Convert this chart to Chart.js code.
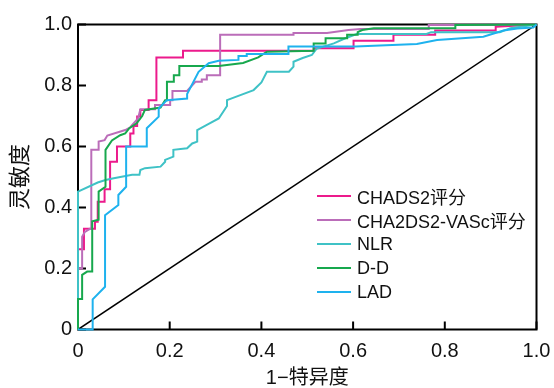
<!DOCTYPE html>
<html>
<head>
<meta charset="utf-8">
<script src="https://cdn.jsdelivr.net/npm/chart.js@4.4.1/dist/chart.umd.min.js"></script>
<style>
  body { margin: 0; background: #fff; }
  #wrap { position: relative; width: 554px; height: 388px; }
  #legend { position: absolute; left: 317px; top: 184px; font-family: 'Liberation Sans', Arial, 'Noto Sans CJK SC', sans-serif; font-size: 18px; color: #111; }
  .row { display: flex; align-items: center; height: 24px; white-space: nowrap; }
  .swatch { width: 34px; height: 2px; margin-right: 6px; }
</style>
</head>
<body>
<div id="wrap">
  <canvas id="roc" width="554" height="388"></canvas>
  <div id="legend"></div>
</div>
<script>
// 坐标轴
var tickValues = [0, 0.2, 0.4, 0.6, 0.8, 1.0];
var tickLabels = ["0", "0.2", "0.4", "0.6", "0.8", "1.0"];
var xTitle = "1−特异度";
var yTitle = "灵敏度";

// 图例名称
var seriesNames = ["CHADS2评分", "CHA2DS2-VASc评分", "NLR", "D-D", "LAD"];
var seriesColors = ["#ec1a8c", "#bb6db9", "#3fc2c6", "#17a84d", "#1eb2ee"];

// ROC 曲线 [1-特异度, 灵敏度]
var chads2Roc = [
  [0, 0], [0, 0.263], [0.013, 0.263], [0.013, 0.33], [0.037, 0.33], [0.037, 0.353],
  [0.043, 0.353], [0.043, 0.419], [0.058, 0.419], [0.058, 0.46], [0.07, 0.46], [0.07, 0.55],
  [0.085, 0.55], [0.085, 0.6], [0.114, 0.6], [0.114, 0.643], [0.121, 0.643], [0.121, 0.667],
  [0.129, 0.667], [0.129, 0.698], [0.136, 0.698], [0.136, 0.72], [0.154, 0.72], [0.154, 0.752],
  [0.171, 0.752], [0.171, 0.892], [0.229, 0.892], [0.229, 0.914], [0.514, 0.914], [0.514, 0.922],
  [0.601, 0.922], [0.601, 0.947], [0.688, 0.947], [0.688, 0.966], [0.779, 0.966], [0.779, 0.98],
  [0.911, 0.98], [0.911, 0.993], [1, 1]
];
var vascRoc = [
  [0, 0], [0, 0.2], [0.009, 0.2], [0.009, 0.304], [0.015, 0.32], [0.026, 0.33], [0.029, 0.33],
  [0.029, 0.589], [0.045, 0.589], [0.045, 0.616], [0.058, 0.621], [0.064, 0.636], [0.103, 0.654],
  [0.114, 0.663], [0.131, 0.692], [0.136, 0.722], [0.168, 0.722], [0.168, 0.736], [0.201, 0.736],
  [0.201, 0.752], [0.206, 0.752], [0.206, 0.782], [0.238, 0.782], [0.256, 0.812], [0.27, 0.812],
  [0.27, 0.82], [0.281, 0.82], [0.281, 0.834], [0.31, 0.834], [0.31, 0.966], [0.47, 0.966],
  [0.47, 0.972], [0.543, 0.972], [0.59, 0.982], [0.616, 0.985], [0.765, 0.985], [0.765, 0.998], [1, 1]
];
var nlrRoc = [
  [0, 0], [0, 0.452], [0.043, 0.482], [0.06, 0.49], [0.078, 0.496], [0.118, 0.507], [0.134, 0.507],
  [0.136, 0.523], [0.146, 0.529], [0.18, 0.534], [0.19, 0.55], [0.19, 0.556], [0.208, 0.567],
  [0.208, 0.589], [0.238, 0.594], [0.249, 0.61], [0.26, 0.616], [0.26, 0.654], [0.28, 0.67],
  [0.307, 0.692], [0.325, 0.733], [0.325, 0.752], [0.383, 0.785], [0.4, 0.81], [0.412, 0.845],
  [0.46, 0.845], [0.47, 0.862], [0.47, 0.878], [0.49, 0.89], [0.51, 0.9], [0.52, 0.92],
  [0.558, 0.938], [0.583, 0.955], [0.608, 0.969], [0.76, 0.969], [0.77, 0.975], [0.92, 0.975],
  [0.943, 0.988], [1, 1]
];
var ddRoc = [
  [0, 0], [0, 0.1], [0.009, 0.1], [0.009, 0.179], [0.02, 0.19], [0.031, 0.19], [0.031, 0.355],
  [0.045, 0.36], [0.045, 0.452], [0.06, 0.468], [0.06, 0.589], [0.074, 0.62], [0.092, 0.637],
  [0.103, 0.643], [0.112, 0.66], [0.128, 0.676], [0.14, 0.7], [0.146, 0.72], [0.18, 0.728],
  [0.19, 0.752], [0.194, 0.752], [0.194, 0.812], [0.209, 0.812], [0.209, 0.834], [0.221, 0.834],
  [0.221, 0.864], [0.307, 0.864], [0.36, 0.874], [0.393, 0.892], [0.412, 0.911], [0.514, 0.914],
  [0.514, 0.938], [0.54, 0.938], [0.54, 0.955], [0.587, 0.955], [0.587, 0.966], [0.61, 0.966],
  [0.61, 0.975], [0.62, 0.982], [0.645, 0.988], [0.823, 0.988], [0.823, 0.998], [1, 1]
];
var ladRoc = [
  [0, 0], [0.032, 0], [0.032, 0.099], [0.059, 0.14], [0.059, 0.375], [0.088, 0.408], [0.088, 0.441],
  [0.105, 0.468], [0.105, 0.6], [0.15, 0.6], [0.15, 0.66], [0.176, 0.698], [0.176, 0.725],
  [0.194, 0.752], [0.238, 0.757], [0.238, 0.772], [0.263, 0.845], [0.285, 0.873], [0.307, 0.881],
  [0.35, 0.884], [0.35, 0.897], [0.368, 0.897], [0.368, 0.903], [0.459, 0.903], [0.459, 0.928],
  [0.605, 0.928], [0.739, 0.936], [0.783, 0.949], [0.884, 0.96], [0.928, 0.98], [0.958, 0.987],
  [0.993, 0.99], [1, 1]
];
var refLine = [[0, 0], [1, 1]];

var allRoc = [chads2Roc, vascRoc, nlrRoc, ddRoc, ladRoc];

Chart.defaults.font.family = "'Liberation Sans', Arial, Helvetica, 'Noto Sans CJK SC', sans-serif";
Chart.defaults.color = "#111";

function toPoints(arr) {
  return arr.map(function (p) { return { x: p[0], y: p[1] }; });
}

// 边框和向内的刻度线
var framePlugin = {
  id: "frame",
  beforeDatasetsDraw: function (chart) {
    var ctx = chart.ctx, a = chart.chartArea;
    var xs = chart.scales.x, ys = chart.scales.y;
    ctx.save();
    ctx.strokeStyle = "#000";
    ctx.lineWidth = 2;
    ctx.strokeRect(a.left, a.top, a.right - a.left, a.bottom - a.top);
    ctx.beginPath();
    tickValues.forEach(function (v) {
      var px = xs.getPixelForValue(v);
      ctx.moveTo(px, a.bottom);
      ctx.lineTo(px, a.bottom - 8);
      var py = ys.getPixelForValue(v);
      ctx.moveTo(a.left, py);
      ctx.lineTo(a.left + 8, py);
    });
    ctx.stroke();
    ctx.restore();
  }
};

var datasets = allRoc.map(function (arr, i) {
  return {
    label: seriesNames[i],
    data: toPoints(arr),
    borderColor: seriesColors[i],
    borderWidth: 2,
    pointRadius: 0,
    tension: 0,
    clip: 3,
    order: 5 - i
  };
});
datasets.push({
  label: "ref",
  data: toPoints(refLine),
  borderColor: "#000",
  borderWidth: 1.5,
  pointRadius: 0,
  order: 10
});

// 不让 Chart.js 为刻度文字额外留边
function noPad(s) {
  s.paddingLeft = 0; s.paddingRight = 0; s.paddingTop = 0; s.paddingBottom = 0;
}

var axisBase = {
  type: "linear",
  min: 0,
  max: 1,
  grid: { display: false, drawTicks: false },
  border: { display: false }
};

new Chart(document.getElementById("roc"), {
  type: "line",
  data: { datasets: datasets },
  plugins: [framePlugin],
  options: {
    responsive: false,
    animation: false,
    layout: { padding: { left: 0, top: 24.5, right: 17.5, bottom: 0 } },
    plugins: { legend: { display: false }, tooltip: { enabled: false } },
    scales: {
      x: Object.assign({}, axisBase, {
        afterBuildTicks: function (s) { s.ticks = tickValues.map(function (v) { return { value: v }; }); },
        afterFit: function (s) { s.height = 58.5; noPad(s); },
        ticks: {
          font: { size: 20 },
          padding: 10,
          maxRotation: 0,
          callback: function (v, i) { return tickLabels[i]; }
        },
        title: { display: true, text: xTitle, font: { size: 20, lineHeight: 1 }, padding: { top: 0, bottom: 0 } }
      }),
      y: Object.assign({}, axisBase, {
        afterBuildTicks: function (s) { s.ticks = tickValues.map(function (v) { return { value: v }; }); },
        afterFit: function (s) { s.width = 78; noPad(s); },
        ticks: {
          font: { size: 20 },
          padding: 6,
          callback: function (v, i) { return tickLabels[i]; }
        },
        title: { display: true, text: yTitle, font: { size: 22, lineHeight: 1 }, padding: { top: 10, bottom: 0 } }
      })
    }
  }
});

// 图例 (放在绘图区内)
var legendBox = document.getElementById("legend");
seriesNames.forEach(function (name, i) {
  var row = document.createElement("div");
  row.className = "row";
  var sw = document.createElement("span");
  sw.className = "swatch";
  sw.style.background = seriesColors[i];
  var txt = document.createElement("span");
  txt.textContent = name;
  row.appendChild(sw);
  row.appendChild(txt);
  legendBox.appendChild(row);
});
</script>
</body>
</html>
